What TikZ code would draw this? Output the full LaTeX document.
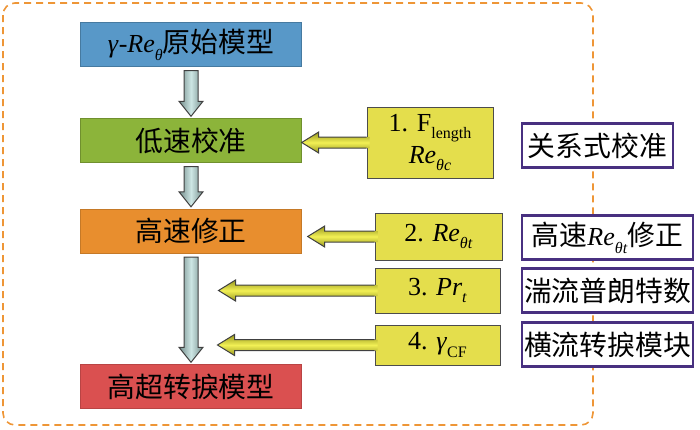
\documentclass[tikz,border=0pt]{standalone}
\usepackage{fontspec}
\setmainfont{Liberation Serif}
\newfontfamily\cjk[Scale=1.07]{Noto Sans CJK SC}
\usetikzlibrary{calc,positioning}
\definecolor{boxblue}{RGB}{88,152,200}
\definecolor{boxgreen}{RGB}{140,180,58}
\definecolor{boxorange}{RGB}{232,142,46}
\definecolor{boxred}{RGB}{218,80,80}
\definecolor{boxyellow}{RGB}{228,222,76}
\definecolor{framepurple}{RGB}{72,48,128}
\definecolor{dashorange}{RGB}{238,150,55}
\definecolor{arrowgray}{RGB}{115,140,138}
\definecolor{arrowlight}{RGB}{205,230,228}
\definecolor{arrowolive}{RGB}{150,150,30}
\definecolor{arrowyellow}{RGB}{242,240,85}
\newcommand{\bigtxt}{\fontsize{26}{32}\selectfont}
\newcommand{\lowsub}[1]{\raisebox{-0.3em}{\fontsize{16}{18}\selectfont #1}}
% block arrow down, from box to box
\newcommand{\grayarrow}[2]{%
  \shadedraw[left color=arrowgray,right color=arrowgray,middle color=arrowlight,draw=black!75,line width=1pt]
    ($(#1.south)+(-7,4)$) -- ($(#2.north)+(-7,-17)$) -- ($(#2.north)+(-12,-17)$) -- ($(#2.north)+(0,-2)$)
    -- ($(#2.north)+(12,-17)$) -- ($(#2.north)+(7,-17)$) -- ($(#1.south)+(7,4)$) -- cycle;}
% block arrow left, from a yellow box to a tip
\newcommand{\yellowarrow}[2]{%
  \shade[top color=arrowolive,bottom color=arrowolive,middle color=arrowyellow]
    ($(#1.west)+(3,-5.5)$) -- ($(#2)+(17,-5.5)$) -- ($(#2)+(17,-10.5)$) -- (#2)
    -- ($(#2)+(17,10.5)$) -- ($(#2)+(17,5.5)$) -- ($(#1.west)+(3,5.5)$) -- cycle;
  \draw[black!75,line width=1pt]
    ($(#1.west)+(0,-5.5)$) -- ($(#2)+(17,-5.5)$) -- ($(#2)+(17,-10.5)$) -- (#2)
    -- ($(#2)+(17,10.5)$) -- ($(#2)+(17,5.5)$) -- ($(#1.west)+(0,5.5)$);}

\begin{document}
\begin{tikzpicture}[x=1pt,y=-1pt,
  stage/.style={minimum width=221pt,minimum height=44pt,inner sep=0pt,font=\bigtxt},
  param/.style={fill=boxyellow,draw=black!70,line width=1pt,inner sep=0pt,font=\bigtxt,align=center},
  note/.style={draw=framepurple,line width=2.5pt,fill=white,inner sep=0pt,minimum height=44pt,font=\bigtxt}]
  \useasboundingbox (0,0) rectangle (700,429);
  \draw[dashorange,line width=1.6pt,dash pattern=on 7pt off 5pt,rounded corners=12pt] (3,3) rectangle (593,425);

  % main chain
  \node[stage,fill=boxblue,draw=boxblue!80!black] (orig) at (191,44.5) {\textit{γ}-\textit{Re}\lowsub{\textit{θ}}{\cjk 原始模型}};
  \node[stage,fill=boxgreen,draw=boxgreen!80!black] (low) at (191,140.5) {\cjk 低速校准};
  \node[stage,fill=boxorange,draw=boxorange!85!black] (high) at (191,231) {\cjk 高速修正};
  \node[stage,fill=boxred,draw=boxred!85!black] (final) at (191,386.5) {\cjk 高超转捩模型};

  % parameters
  \node[param,minimum width=126pt,minimum height=71pt] (p1) at (430,142.5) {1. F\lowsub{length}\\\textit{Re}\lowsub{\textit{θc}}};
  \node[param,minimum width=127pt,minimum height=47pt] (p2) at (438.5,236.5) {2. \textit{Re}\lowsub{\textit{θt}}};
  \node[param,minimum width=125pt,minimum height=45pt] (p3) at (437.5,290.5) {3. \textit{Pr}\lowsub{\textit{t}}};
  \node[param,minimum width=125pt,minimum height=40pt] (p4) at (437.5,345) {4. \textit{γ}\lowsub{CF}};

  % notes
  \node[note,minimum width=151pt] (n1) at (597.5,145.5) {\cjk 关系式校准};
  \node[note,minimum width=171pt] (n2) at (607.5,237.5) {{\cjk 高速}\textit{Re}\lowsub{\textit{θt}}{\cjk 修正}};
  \node[note,minimum width=171pt] (n3) at (607.5,290.5) {\cjk 湍流普朗特数};
  \node[note,minimum width=171pt] (n4) at (607.5,344.5) {\cjk 横流转捩模块};

  \grayarrow{orig}{low}
  \grayarrow{low}{high}
  \grayarrow{high}{final}

  \coordinate (t1) at (low.east |- p1.west);
  \coordinate (t2) at ($(high.east |- p2.west)+(6,0)$);
  \path (p3.west) ++(-156,0) coordinate (t3);
  \path (p4.west) ++(-157,0) coordinate (t4);
  \yellowarrow{p1}{t1}
  \yellowarrow{p2}{t2}
  \yellowarrow{p3}{t3}
  \yellowarrow{p4}{t4}
\end{tikzpicture}
\end{document}
